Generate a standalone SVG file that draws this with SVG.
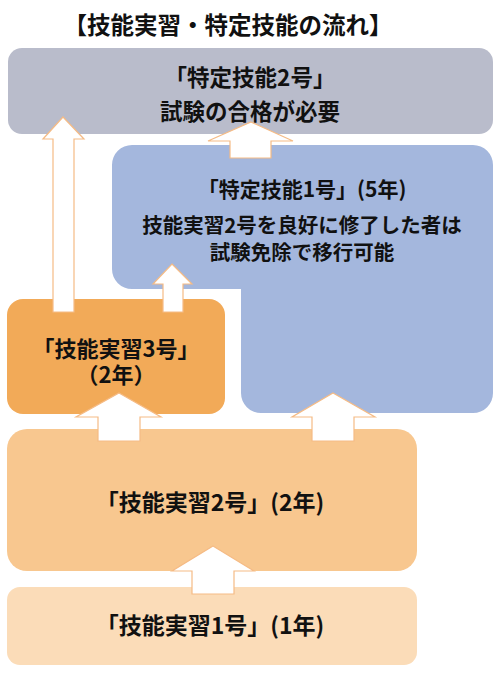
<svg xmlns="http://www.w3.org/2000/svg" width="500" height="677" viewBox="0 0 500 677">
<style>
.t{font-family:"Noto Sans CJK JP","Noto Sans CJK SC",sans-serif;font-weight:bold;fill:#111;text-anchor:middle;font-size:21px}
.arrow{fill:#fff;stroke:#F5BB85;stroke-width:1.2;stroke-linejoin:miter}
</style>
<rect width="500" height="677" fill="#fff"/>
<g id="title"><text class="t" x="228" y="33.5" style="font-size:23.5px">【技能実習・特定技能の流れ】</text></g>
<g id="tokutei2">
<rect x="8" y="48" width="485" height="86" rx="14" fill="#B9BCCB"/>
<text class="t" x="250" y="86" style="font-size:22.5px">「特定技能2号」</text>
<text class="t" x="250" y="119.5" style="font-size:22.5px">試験の合格が必要</text>
</g>
<g id="tokutei1">
<path d="M132,145 H473 A20,20 0 0 1 493,165 V393 A20,20 0 0 1 473,413 H261 A20,20 0 0 1 241,393 V289 H132 A20,20 0 0 1 112,269 V165 A20,20 0 0 1 132,145 Z" fill="#A4B7DD"/>
<text class="t" x="302" y="197" style="font-size:21px">「特定技能1号」(5年)</text>
<text class="t" x="302" y="232.5" style="font-size:20.5px">技能実習2号を良好に修了した者は</text>
<text class="t" x="302" y="259.5" style="font-size:20.5px">試験免除で移行可能</text>
</g>
<g id="jisshu3">
<rect x="7" y="299" width="218" height="115" rx="16" fill="#F2AA58"/>
<text class="t" x="116" y="356.5" style="font-size:22px">「技能実習3号」</text>
<text class="t" x="116" y="383" style="font-size:22px">（2年）</text>
</g>
<g id="jisshu2">
<rect x="7" y="429" width="410" height="142" rx="20" fill="#F8C78F"/>
<text class="t" x="210" y="511" style="font-size:23px">「技能実習2号」(2年)</text>
</g>
<g id="jisshu1">
<rect x="7" y="587" width="410" height="78" rx="13" fill="#FBDCB8"/>
<text class="t" x="210" y="634" style="font-size:23px">「技能実習1号」(1年)</text>
</g>
<g id="connectors">
<polygon class="arrow" points="63,117 84,139 74,139 74,312 53,312 53,139 43,139"/>
<polygon class="arrow" points="251,122 293,141 271,141 271,158 230,158 230,141 208,141"/>
<polygon class="arrow" points="172,264 192,284 183,284 183,312 163,312 163,284 153,284"/>
<polygon class="arrow" points="119,393 161,417 140,417 140,441 98,441 98,417 76,417"/>
<polygon class="arrow" points="333,393 375,417 354,417 354,441 312,441 312,417 292,417"/>
<polygon class="arrow" points="213,546 254,571 234,571 234,594 192,594 192,571 172,571"/>
</g>
</svg>
